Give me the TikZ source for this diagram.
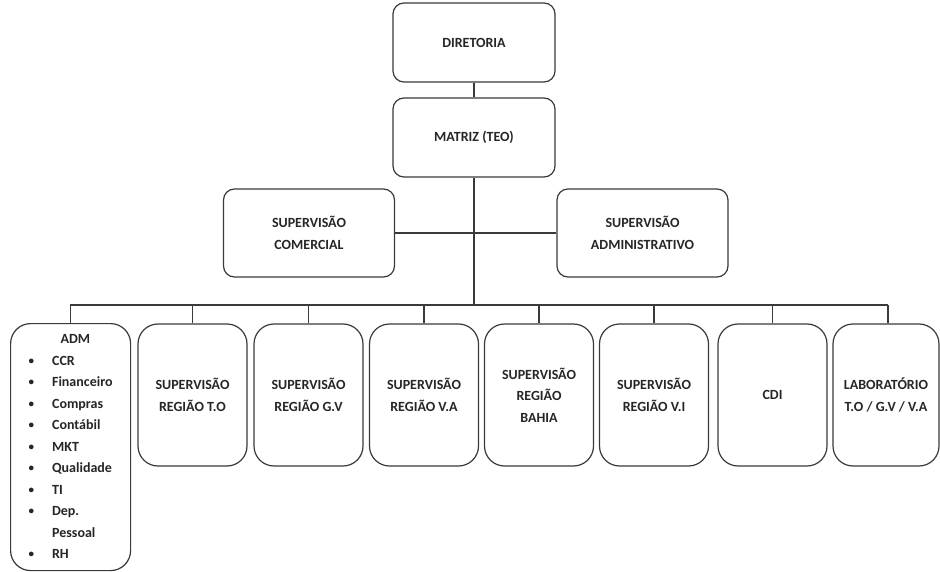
\documentclass[tikz,border=0pt]{standalone}
\usepackage{fontspec}
\setmainfont{Carlito}
\definecolor{linec}{HTML}{3A3A3A}
\definecolor{textc}{HTML}{262626}
\newcommand{\blt}{\makebox[23.5pt][l]{\raisebox{1pt}{\fontsize{11}{11}\selectfont•}}}
\begin{document}
\begin{tikzpicture}[x=1pt,y=-1pt,
  base/.style={draw=linec,line width=1.2pt,text=textc,align=center,
    font=\bfseries\fontsize{14}{21.5}\selectfont,inner sep=0pt},
  topbox/.style={base,rounded corners=11pt,minimum width=162pt,minimum height=79pt},
  midbox/.style={base,rounded corners=11pt,minimum width=171pt,minimum height=88pt},
  lowbox/.style={base,rounded corners=20pt,minimum width=109pt,minimum height=142pt},
  conn/.style={draw=linec,line width=1.1pt}]
\useasboundingbox (0,0) rectangle (940,572);
\fill[white] (0,0) rectangle (940,572);

\node[topbox] (dir) at (474,42.5) {DIRETORIA};
\node[topbox] (mat) at (474,137.5) {MATRIZ (TEO)};
\node[midbox] (com) at (309,233) {SUPERVISÃO\\COMERCIAL};
\node[midbox] (adm2) at (642.5,233) {SUPERVISÃO\\ADMINISTRATIVO};

\node[base,rounded corners=20pt,minimum width=120pt,minimum height=247pt,anchor=north west,
  align=left] (adm) at (10,323)
  {\begin{tabular}{@{}l@{}}
   \hspace{32pt}ADM\\
   \blt CCR\\
   \blt Financeiro\\
   \blt Compras\\
   \blt Contábil\\
   \blt MKT\\
   \blt Qualidade\\
   \blt TI\\
   \blt Dep.\\
   \makebox[23.5pt][l]{}Pessoal\\
   \blt RH
   \end{tabular}};
\node[lowbox] (to) at (192.5,395) {SUPERVISÃO\\REGIÃO T.O};
\node[lowbox] (gv) at (308.5,395) {SUPERVISÃO\\REGIÃO G.V};
\node[lowbox] (va) at (424,395) {SUPERVISÃO\\REGIÃO V.A};
\node[lowbox] (ba) at (539,395) {SUPERVISÃO\\REGIÃO\\BAHIA};
\node[lowbox] (vi) at (654,395) {SUPERVISÃO\\REGIÃO V.I};
\node[lowbox] (cdi) at (772.5,395) {CDI};
\node[lowbox,minimum width=106pt] (lab) at (886,395) {LABORATÓRIO\\T.O / G.V / V.A};

\coordinate (busL) at (70,305);
\coordinate (busR) at (888,305);

\draw[conn] (dir.south) -- (mat.north);
\draw[conn] (com.east) -- (adm2.west);
\draw[conn] (mat.south) -- (mat.south |- busL);
\draw[conn] (busL) -- (busR);
\foreach \n in {adm,to,gv,va,ba,vi,cdi}
  \draw[conn] (\n.north |- busL) -- (\n.north);
\draw[conn] (busR) -- (busR |- lab.north);
\end{tikzpicture}
\end{document}
